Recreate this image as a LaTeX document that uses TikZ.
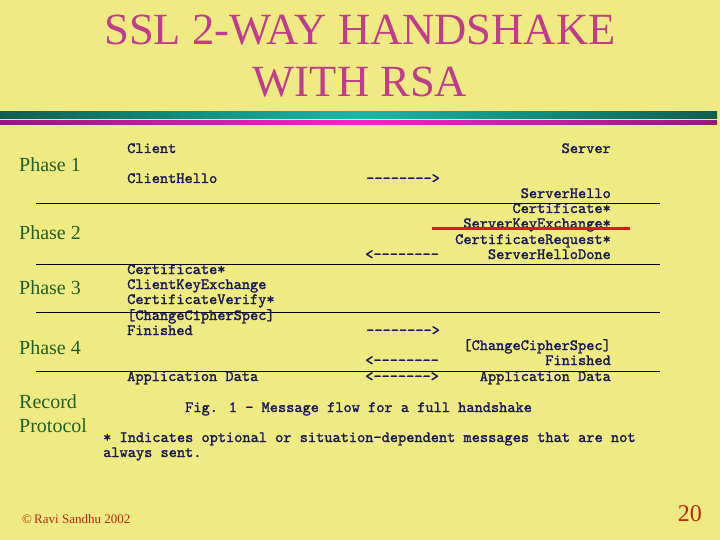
\documentclass[tikz,border=0pt]{standalone}
\usepackage{fontspec}
\setmainfont{Liberation Serif}
\newfontfamily\monofont[FakeBold=1.6]{lmmono10-regular.otf}
\definecolor{bg}{RGB}{239,235,130}
\definecolor{titlec}{RGB}{192,60,140}
\definecolor{phasec}{RGB}{35,95,40}
\definecolor{msgc}{RGB}{25,25,85}
\definecolor{footc}{RGB}{190,40,20}
\definecolor{tealD}{RGB}{15,95,80}
\definecolor{tealL}{RGB}{20,185,170}
\definecolor{magD}{RGB}{150,25,115}
\definecolor{magL}{RGB}{235,40,200}
\definecolor{redl}{RGB}{220,25,25}
\tikzset{
  msg/.style={inner sep=0pt, text=msgc, font=\monofont\fontsize{15.6}{17}\selectfont},
  phase/.style={inner sep=0pt, anchor=base west, text=phasec, font=\fontsize{20}{22}\selectfont},
  sep/.style={draw=black, line width=0.9pt},
  ttl/.style={inner sep=0pt, anchor=base, text=titlec, font=\fontsize{44.6}{50}\selectfont},
}
\begin{document}
\begin{tikzpicture}[x=1pt,y=-1pt]
\fill[bg] (0,0) rectangle (720,540);
\useasboundingbox (0,0) rectangle (720,540);
% title
\node[ttl] (t1) at (360,45) {SSL 2-WAY HANDSHAKE};
\node[ttl] (t2) at (360,97) {WITH RSA};
% bands
\shade[left color=tealD, right color=tealD, middle color=tealL] (0,112) rectangle (717,118.3);
\shade[left color=magD, right color=magD, middle color=magL] (0,121) rectangle (717,125);
% phase labels
\node[phase] (p1) at (19,172) {Phase 1};
\node[phase] (p2) at (19,240) {Phase 2};
\node[phase] (p3) at (19,294) {Phase 3};
\node[phase] (p4) at (19,354) {Phase 4};
\node[phase] (r1) at (19,408) {Record};
\node[phase] (r2) at (19,432) {Protocol};
% separators
\draw[sep] (36,203) -- (660,203);
\draw[sep] (36,264) -- (660,264);
\draw[sep] (36,312) -- (660,312);
\draw[sep] (36,371.5) -- (660,371.5);
% client column
\node[msg, anchor=base west] (c0) at (127,153) {Client};
\node[msg, anchor=base west] (c1) at (127,183) {ClientHello};
\node[msg, anchor=base west] (c2) at (127,274) {Certificate*};
\node[msg, anchor=base west] (c3) at (127,289) {ClientKeyExchange};
\node[msg, anchor=base west] (c4) at (127,304) {CertificateVerify*};
\node[msg, anchor=base west] (c5) at (127,320) {[ChangeCipherSpec]};
\node[msg, anchor=base west] (c6) at (127,335) {Finished};
\node[msg, anchor=base west] (c7) at (127,381) {Application Data};
% arrows column
\node[msg, anchor=base west] (a1) at (366,183) {-{}-{}-{}-{}-{}-{}-{}->};
\node[msg, anchor=base west] (a2) at (365,259) {<-{}-{}-{}-{}-{}-{}-{}-};
\node[msg, anchor=base west] (a3) at (366,335) {-{}-{}-{}-{}-{}-{}-{}->};
\node[msg, anchor=base west] (a4) at (365,365) {<-{}-{}-{}-{}-{}-{}-{}-};
\node[msg, anchor=base west] (a5) at (365,381) {<-{}-{}-{}-{}-{}-{}->};
% server column
\node[msg, anchor=base east] (s0) at (611,153) {Server};
\node[msg, anchor=base east] (s1) at (611,198) {ServerHello};
\node[msg, anchor=base east] (s2) at (611,213) {Certificate*};
\node[msg, anchor=base east] (s3) at (611,228) {ServerKeyExchange*};
\node[msg, anchor=base east] (s4) at (611,244) {CertificateRequest*};
\node[msg, anchor=base east] (s5) at (611,259) {ServerHelloDone};
\node[msg, anchor=base east] (s6) at (611,350) {[ChangeCipherSpec]};
\node[msg, anchor=base east] (s7) at (611,365) {Finished};
\node[msg, anchor=base east] (s8) at (611,381) {Application Data};
% strike-through
\draw[redl, line width=3pt] (432,228.3) -- (630,228.3);
% caption and note
\node[msg, anchor=base west] (fig) at (185,412) {Fig. 1 - Message flow for a full handshake};
\node[msg, anchor=base west] (n1) at (103,442) {* Indicates optional or situation-dependent messages that are not};
\node[msg, anchor=base west] (n2) at (103,457) {always sent.};
% footer
\node[inner sep=0pt, anchor=base west, text=footc, font=\fontsize{13}{14}\selectfont] (foot) at (22,523) {\textcopyright\,Ravi Sandhu 2002};
\node[inner sep=0pt, anchor=base east, text=footc, font=\fontsize{24}{26}\selectfont] (pg) at (702,521) {20};
\end{tikzpicture}
\end{document}
